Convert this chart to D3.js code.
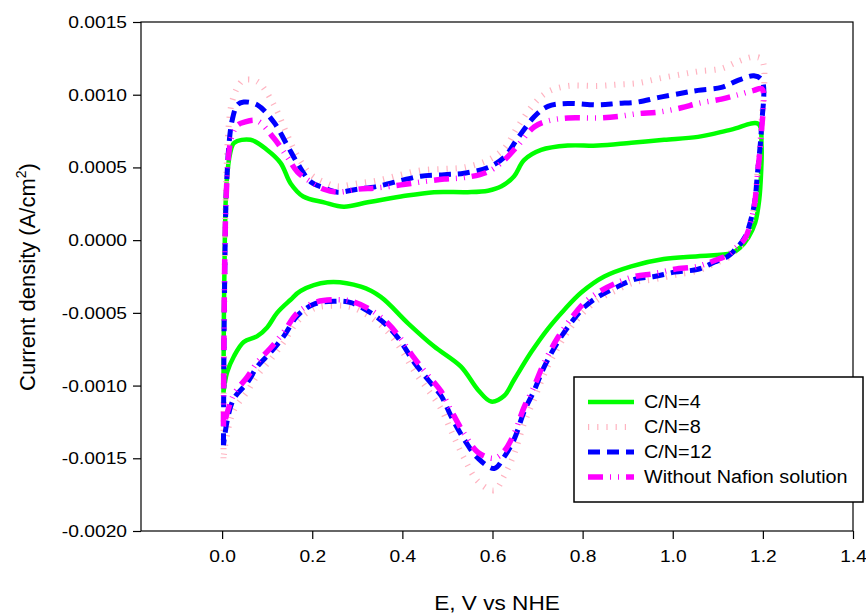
<!DOCTYPE html>
<html>
<head>
<meta charset="utf-8">
<script src="https://cdnjs.cloudflare.com/ajax/libs/d3/7.8.5/d3.min.js"></script>
<style>
  body { margin: 0; background: #fff; }
  svg { display: block; font-family: "Liberation Sans", Arial, sans-serif; }
</style>
</head>
<body>
<svg width="866" height="614"></svg>
<script>
// Potential (V vs NHE) for the C/N=4 loop
var potentialCN4 = [0.003,0.004,0.006,0.010,0.018,0.027,0.063,0.100,0.130,0.152,0.180,0.226,0.270,0.323,0.397,0.470,
    0.545,0.590,0.620,0.648,0.670,0.708,0.767,0.834,0.908,0.981,1.056,1.130,1.190,1.197,1.196,1.192,1.183,1.168,1.150,
    1.130,1.056,0.980,0.908,0.848,0.797,0.759,0.723,0.686,0.648,0.626,0.597,0.568,0.530,0.470,0.412,0.352,0.308,0.234,
    0.174,0.152,0.122,0.100,0.078,0.048,0.026,0.011,0.003];
var currentCN4 = [-0.00105,-0.0005,0.0,0.0004,0.0006,0.00067,0.00069,0.00062,0.00053,0.00039,0.0003,0.00026,0.00023,
    0.00026,0.0003,0.00033,0.00033,0.00034,0.00037,0.00044,0.00055,0.00062,0.00065,0.00065,0.00067,0.00069,0.00071,
    0.00076,0.0008,0.00065,0.00046,0.00028,0.00012,0.00002,-0.00005,-0.00009,-0.00011,-0.00013,-0.00018,-0.00025,
    -0.00036,-0.00048,-0.00061,-0.00077,-0.00096,-0.00107,-0.00111,-0.00103,-0.00087,-0.00073,-0.00057,-0.00039,
    -0.00032,-0.00029,-0.00035,-0.00041,-0.0005,-0.0006,-0.00066,-0.0007,-0.0008,-0.00091,-0.00105];

// Shared potential grid for the other three loops
var potential = [0.003,0.004,0.006,0.009,0.015,0.022,0.034,0.048,0.078,0.115,0.145,0.167,0.197,0.226,0.256,0.300,
    0.345,0.397,0.441,0.493,0.537,0.590,0.626,0.656,0.693,0.723,0.767,0.834,0.878,0.923,0.967,1.019,1.056,1.108,1.146,
    1.180,1.198,1.197,1.188,1.180,1.160,1.137,1.123,1.093,1.056,1.004,0.959,0.915,0.871,0.834,0.804,0.774,0.745,0.715,
    0.693,0.670,0.648,0.626,0.604,0.568,0.537,0.508,0.486,0.457,0.426,0.397,0.367,0.330,0.286,0.248,0.204,0.167,0.137,
    0.108,0.078,0.056,0.026,0.012,0.003];
var currentCN8 = [-0.0015,-0.0008,-0.0001,0.0004,0.0008,0.00095,0.00105,0.0011,0.00109,0.00093,0.00072,0.00058,
    0.00045,0.0004,0.00037,0.00039,0.00041,0.00045,0.00048,0.00049,0.0005,0.00055,0.00063,0.00078,0.00094,0.00102,
    0.00106,0.00106,0.00107,0.00108,0.00111,0.00114,0.00116,0.00118,0.00123,0.00126,0.00124,0.0008,0.00046,0.00022,
    0.0,-0.00008,-0.00012,-0.00016,-0.00021,-0.00024,-0.00027,-0.00029,-0.00035,-0.00041,-0.00049,-0.0006,-0.00074,
    -0.00092,-0.00109,-0.00126,-0.00147,-0.00162,-0.00172,-0.00166,-0.0015,-0.00131,-0.00116,-0.00103,-0.0009,
    -0.00075,-0.00063,-0.00053,-0.00046,-0.00045,-0.00047,-0.00056,-0.0007,-0.00082,-0.00093,-0.00104,-0.00117,
    -0.00132,-0.0015];
var currentCN12 = [-0.00141,-0.0008,-0.0002,0.0003,0.00065,0.00082,0.00093,0.00095,0.00093,0.00081,0.00065,0.00053,
    0.0004,0.00036,0.00033,0.00035,0.00037,0.00041,0.00044,0.00045,0.00046,0.0005,0.00057,0.0007,0.00085,0.00092,
    0.00094,0.00093,0.00094,0.00095,0.00098,0.00101,0.00103,0.00105,0.0011,0.00113,0.0011,0.00078,0.00046,0.00023,
    0.00002,-0.00007,-0.00011,-0.00015,-0.0002,-0.00022,-0.00025,-0.00027,-0.00033,-0.00039,-0.00046,-0.00057,-0.0007,
    -0.00087,-0.00103,-0.00118,-0.00137,-0.00149,-0.00157,-0.0015,-0.00137,-0.00121,-0.00107,-0.00096,-0.00084,
    -0.0007,-0.00059,-0.0005,-0.00043,-0.00042,-0.00044,-0.00052,-0.00066,-0.00077,-0.00087,-0.00098,-0.00109,
    -0.00123,-0.00141];
var currentNoNafion = [-0.00128,-0.0007,-0.0001,0.0003,0.0006,0.00072,0.00079,0.00081,0.00082,0.0007,0.00057,0.00047,
    0.0004,0.00035,0.00033,0.00035,0.00036,0.00038,0.0004,0.00042,0.00043,0.00047,0.00055,0.00065,0.00078,0.00082,
    0.00084,0.00084,0.00085,0.00087,0.00088,0.00091,0.00094,0.00097,0.001,0.00103,0.00104,0.00075,0.00045,0.00022,
    0.00001,-0.00006,-0.0001,-0.00014,-0.00018,-0.0002,-0.00023,-0.00025,-0.0003,-0.00036,-0.00043,-0.00054,-0.00067,
    -0.00084,-0.001,-0.00115,-0.00133,-0.00145,-0.0015,-0.00146,-0.00133,-0.00117,-0.00104,-0.00093,-0.00081,
    -0.00068,-0.00057,-0.00048,-0.00042,-0.00041,-0.00043,-0.0005,-0.00063,-0.00074,-0.00084,-0.00094,-0.00106,
    -0.00118,-0.00128];

var seriesNames = ["C/N=4", "C/N=8", "C/N=12", "Without Nafion solution"];
var xTicks = [0.0, 0.2, 0.4, 0.6, 0.8, 1.0, 1.2, 1.4];
var yTicks = [-0.0020, -0.0015, -0.0010, -0.0005, 0.0, 0.0005, 0.0010, 0.0015];

// Styles for each series (same order as the names)
var styles = [
    {color: "#00ff00", width: 4.5, dash: null},
    {color: "#ffb3c0", width: 6, dash: "1.2 8"},
    {color: "#0000ff", width: 5, dash: "12 7"},
    {color: "#ff00ff", width: 5.5, dash: "15 7 1 7 1 7"}
];

var series = [
    d3.zip(potentialCN4, currentCN4),
    d3.zip(potential, currentCN8),
    d3.zip(potential, currentCN12),
    d3.zip(potential, currentNoNafion)
];

var svg = d3.select("svg");
var stretch = 1.13;   // the original text is a bit wide

var x = d3.scaleLinear().domain([-0.18, 1.4]).range([141, 853]);
var y = d3.scaleLinear().domain([-0.002, 0.0015]).range([531, 22]);

function widen(sel, k) {
    sel.each(function() {
        var w = this.getComputedTextLength();
        d3.select(this).attr("textLength", w * k).attr("lengthAdjust", "spacingAndGlyphs");
    });
}

// axes
var gx = svg.append("g")
    .attr("transform", "translate(0,531)")
    .call(d3.axisBottom(x).tickValues(xTicks).tickFormat(d => d.toFixed(1)).tickSize(8).tickPadding(11).tickSizeOuter(0));
var gy = svg.append("g")
    .attr("transform", "translate(141,0)")
    .call(d3.axisLeft(y).tickValues(yTicks).tickFormat(d => d.toFixed(4)).tickSize(8).tickPadding(6).tickSizeOuter(0));

[gx, gy].forEach(g => {
    g.select(".domain").remove();
    g.selectAll(".tick line").attr("stroke", "#000").attr("stroke-width", 1.2);
    g.selectAll("text").attr("font-size", 17).attr("fill", "#000")
        .attr("font-family", "Liberation Sans, Arial, sans-serif");
    widen(g.selectAll("text"), stretch);
});

// frame
svg.append("rect")
    .attr("x", 141).attr("y", 22)
    .attr("width", 853 - 141).attr("height", 531 - 22)
    .attr("fill", "none").attr("stroke", "#000").attr("stroke-width", 1.2);

// curves
var line = d3.line()
    .x(d => x(d[0]))
    .y(d => y(d[1]))
    .curve(d3.curveCatmullRom.alpha(0.5));

svg.append("g")
    .attr("fill", "none")
    .attr("stroke-linejoin", "round")
    .selectAll("path")
    .data(series)
    .join("path")
        .attr("d", line)
        .attr("stroke", (d, i) => styles[i].color)
        .attr("stroke-width", (d, i) => styles[i].width)
        .attr("stroke-dasharray", (d, i) => styles[i].dash);

// axis titles
var xt = svg.append("text")
    .attr("x", 497).attr("y", 610)
    .attr("text-anchor", "middle")
    .attr("font-size", 20)
    .text("E, V vs NHE");
widen(xt, stretch);

var yt = svg.append("text")
    .attr("transform", "translate(35,277) rotate(-90)")
    .attr("text-anchor", "middle")
    .attr("font-size", 22);
yt.append("tspan").text("Current density (A/cm");
yt.append("tspan").attr("font-size", 14).attr("dy", -9).text("2");
yt.append("tspan").attr("dy", 9).text(")");

// legend
var legend = svg.append("g");
legend.append("rect")
    .attr("x", 574).attr("y", 377)
    .attr("width", 289).attr("height", 125)
    .attr("fill", "#fff").attr("stroke", "#000").attr("stroke-width", 1.5);

var rows = legend.selectAll("g.row")
    .data(seriesNames)
    .join("g")
        .attr("class", "row")
        .attr("transform", (d, i) => "translate(0," + (402 + i * 25) + ")");

rows.append("line")
    .attr("x1", 588).attr("x2", 634)
    .attr("stroke", (d, i) => styles[i].color)
    .attr("stroke-width", (d, i) => styles[i].width)
    .attr("stroke-dasharray", (d, i) => styles[i].dash);

rows.append("text")
    .attr("x", 644).attr("dy", "0.36em")
    .attr("font-size", 18)
    .text(d => d);
widen(rows.selectAll("text"), 1.1);
</script>
</body>
</html>
